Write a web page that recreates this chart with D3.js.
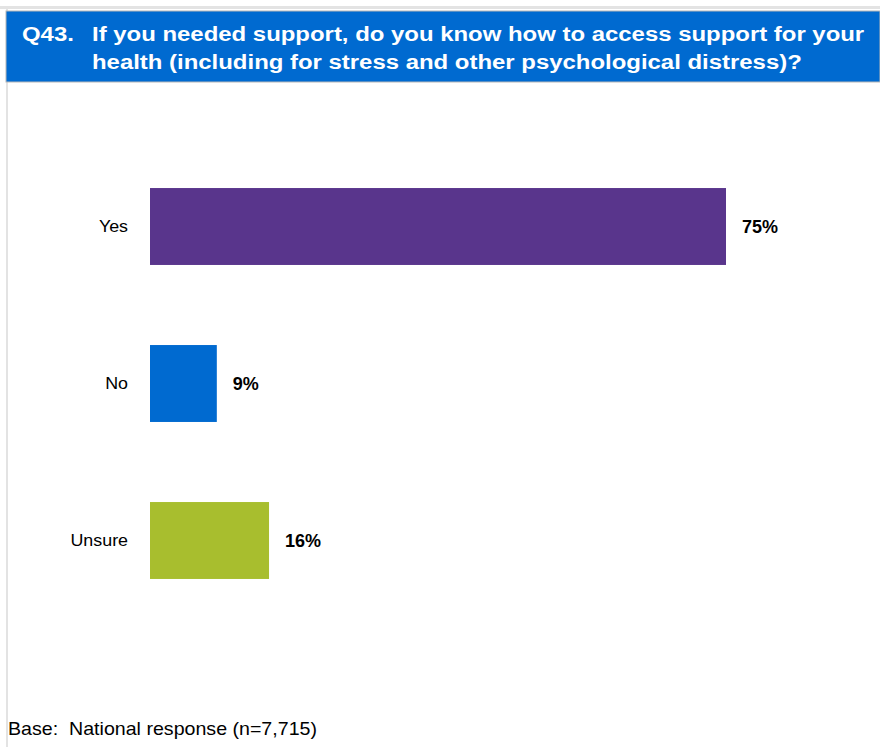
<!DOCTYPE html>
<html>
<head>
<meta charset="utf-8">
<script src="https://cdn.jsdelivr.net/npm/d3@7"></script>
<style>
html,body{margin:0;padding:0;background:#fff;}
svg{display:block;font-family:"Liberation Sans",Arial,sans-serif;}
</style>
</head>
<body>
<svg id="chart" width="880" height="747"></svg>
<script>
const categories = ["Yes", "No", "Unsure"];
const values = [75, 8.7, 15.5];
const valueLabels = ["75%", "9%", "16%"];
const colors = ["#59358C", "#006AD0", "#A8BE2E"];
const titleLines = ["If you needed support, do you know how to access support for your",
                    "health (including for stress and other psychological distress)?"];
const titleNumber = "Q43.";
const baseNote = "Base:  National response (n=7,715)";

const svg = d3.select("#chart");

// frame
svg.append("rect").attr("x", 0).attr("y", 6).attr("width", 880).attr("height", 3).attr("fill", "#e3e3e3");
svg.append("rect").attr("x", 6).attr("y", 9).attr("width", 2).attr("height", 738).attr("fill", "#e3e3e3");
svg.append("rect").attr("x", 6).attr("y", 11).attr("width", 874).attr("height", 71)
  .attr("fill", "#006AD0").attr("stroke", "#b8b8b8").attr("stroke-width", 1);

// title (horizontally stretched as in the reference)
const tsx = 1.14;
svg.append("text").attr("transform", `translate(22,41) scale(${tsx},1)`).attr("fill", "#fff")
  .attr("font-size", 21).attr("font-weight", "bold").text(titleNumber);
titleLines.forEach((t, i) => {
  svg.append("text").attr("transform", `translate(92,${41 + i * 28}) scale(${tsx},1)`).attr("fill", "#fff")
    .attr("font-size", 21).attr("font-weight", "bold").text(t);
});

const x = d3.scaleLinear().domain([0, 75]).range([150, 726]);
const y = d3.scaleBand().domain(categories).range([148, 619]).paddingInner(0.51).paddingOuter(0.255);

const data = categories.map((c, i) => ({c, v: values[i], l: valueLabels[i], col: colors[i]}));

svg.selectAll("rect.bar").data(data).enter().append("rect").attr("class", "bar")
  .attr("x", x(0)).attr("y", d => y(d.c))
  .attr("width", d => x(d.v) - x(0)).attr("height", y.bandwidth())
  .attr("fill", d => d.col);

svg.selectAll("text.cat").data(data).enter().append("text").attr("class", "cat")
  .attr("transform", d => `translate(128,${y(d.c) + y.bandwidth() / 2}) scale(1.05,1)`)
  .attr("dy", "0.35em")
  .attr("text-anchor", "end").attr("font-size", 17).attr("fill", "#000").text(d => d.c);

svg.selectAll("text.val").data(data).enter().append("text").attr("class", "val")
  .attr("x", d => x(d.v) + 16).attr("y", d => y(d.c) + y.bandwidth() / 2).attr("dy", "0.36em")
  .attr("font-size", 18).attr("font-weight", "bold").attr("fill", "#000").text(d => d.l);

svg.append("text").attr("transform", "translate(8,735) scale(1.09,1)").attr("font-size", 18).attr("fill", "#000")
  .attr("xml:space", "preserve").style("white-space", "pre").text(baseNote);
</script>
</body>
</html>
